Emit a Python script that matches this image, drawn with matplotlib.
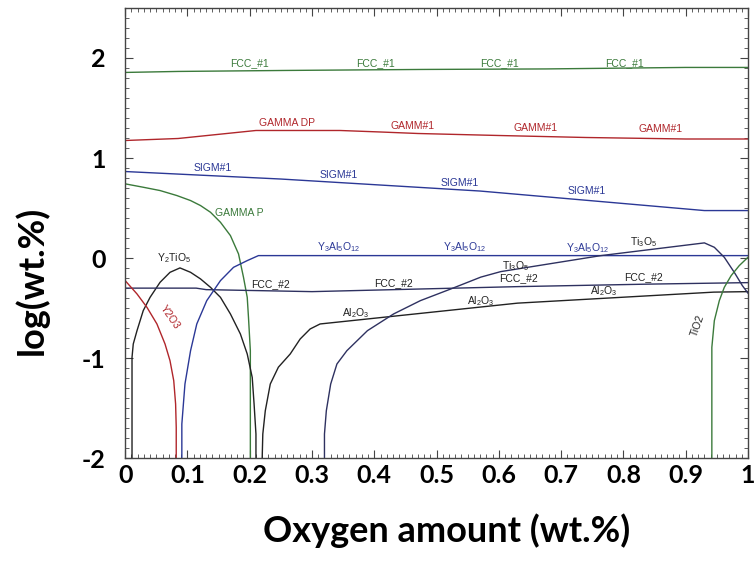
import matplotlib
matplotlib.use('Agg')
import matplotlib.pyplot as plt
from matplotlib.ticker import MultipleLocator

plt.rcParams['mathtext.fontset'] = 'custom'
plt.rcParams['mathtext.rm'] = 'Liberation Sans'
plt.rcParams['mathtext.default'] = 'rm'
plt.rcParams['axes.unicode_minus'] = False

# curvas de fase: oxigenio (wt.%) x log(wt.%)
fcc1_x = [0, 0.085, 0.26, 0.48, 0.675, 0.9, 1.0]
fcc1_y = [1.855, 1.865, 1.875, 1.885, 1.89, 1.905, 1.905]

gamm_x = [0, 0.085, 0.21, 0.345, 0.41, 0.47, 0.6, 0.74, 0.9, 1.0]
gamm_y = [1.175, 1.195, 1.275, 1.275, 1.26, 1.245, 1.225, 1.205, 1.19, 1.19]

sigm_x = [0, 0.25, 0.57, 0.93, 1.0]
sigm_y = [0.865, 0.79, 0.67, 0.475, 0.475]

gammap_x = [0.0, 0.029, 0.056, 0.083, 0.105, 0.121, 0.137, 0.153, 0.169, 0.182,
            0.19, 0.196, 0.198, 0.201, 0.201]
gammap_y = [0.742, 0.708, 0.675, 0.625, 0.575, 0.525, 0.458, 0.358, 0.225, 0.042,
            -0.192, -0.392, -0.592, -0.925, -2.0]

y2tio5_x = [0.011, 0.011, 0.013, 0.019, 0.029, 0.04, 0.056, 0.072, 0.088, 0.105,
            0.121, 0.137, 0.153, 0.169, 0.185, 0.196, 0.204, 0.207, 0.21, 0.21]
y2tio5_y = [-2.0, -0.992, -0.858, -0.725, -0.525, -0.392, -0.242, -0.142, -0.098, -0.142,
            -0.208, -0.292, -0.392, -0.558, -0.758, -0.958, -1.192, -1.458, -1.758, -2.0]

al2o3_x = [0.22, 0.221, 0.225, 0.233, 0.246, 0.265, 0.281, 0.297, 0.313, 0.63, 0.945, 1.0]
al2o3_y = [-2.0, -1.758, -1.525, -1.258, -1.09, -0.958, -0.808, -0.708, -0.658, -0.45, -0.34, -0.335]

fcc2_x = [0, 0.114, 0.13, 0.3, 0.63, 0.84, 1.0]
fcc2_y = [-0.3, -0.3, -0.315, -0.335, -0.285, -0.26, -0.245]

yag_x = [0.091, 0.091, 0.096, 0.105, 0.115, 0.131, 0.153, 0.174, 0.196, 0.214, 1.0]
yag_y = [-2.0, -1.658, -1.258, -0.925, -0.658, -0.425, -0.225, -0.092, -0.025, 0.025, 0.025]

y2o3_x = [0.0, 0.019, 0.035, 0.051, 0.064, 0.072, 0.078, 0.081, 0.082, 0.082]
y2o3_y = [-0.225, -0.358, -0.492, -0.658, -0.858, -1.025, -1.225, -1.458, -1.692, -2.0]

ti3o5_x = [0.32, 0.32, 0.323, 0.33, 0.34, 0.356, 0.389, 0.431, 0.474, 0.523, 0.571,
           0.603, 0.764, 0.93, 0.946, 0.962, 0.978, 0.991, 1.0]
ti3o5_y = [-2.0, -1.758, -1.525, -1.258, -1.058, -0.925, -0.725, -0.558, -0.425, -0.308, -0.19,
           -0.135, 0.025, 0.152, 0.108, 0.008, -0.142, -0.275, -0.35]

tio2_x = [0.942, 0.942, 0.946, 0.954, 0.962, 0.973, 0.986, 1.0]
tio2_y = [-2.0, -0.892, -0.625, -0.425, -0.292, -0.175, -0.075, 0.008]

verde = '#3b7a3b'
vermelho = '#b0262b'
azul = '#2b3896'
marinho = '#2e3160'
preto = '#222222'

curvas = [
    (fcc1_x, fcc1_y, verde),
    (gamm_x, gamm_y, vermelho),
    (sigm_x, sigm_y, azul),
    (gammap_x, gammap_y, verde),
    (y2tio5_x, y2tio5_y, preto),
    (al2o3_x, al2o3_y, preto),
    (fcc2_x, fcc2_y, marinho),
    (yag_x, yag_y, azul),
    (y2o3_x, y2o3_y, vermelho),
    (ti3o5_x, ti3o5_y, marinho),
    (tio2_x, tio2_y, verde),
]

# rotulos: texto, x, y, cor, rotacao
rotulos = [
    ('FCC_#1', 0.2, 1.945, verde, 0), ('FCC_#1', 0.402, 1.945, verde, 0),
    ('FCC_#1', 0.601, 1.945, verde, 0), ('FCC_#1', 0.801, 1.945, verde, 0),
    ('GAMMA DP', 0.26, 1.345, vermelho, 0), ('GAMM#1', 0.461, 1.315, vermelho, 0),
    ('GAMM#1', 0.659, 1.295, vermelho, 0), ('GAMM#1', 0.859, 1.285, vermelho, 0),
    ('SIGM#1', 0.14, 0.905, azul, 0), ('SIGM#1', 0.343, 0.835, azul, 0),
    ('SIGM#1', 0.537, 0.755, azul, 0), ('SIGM#1', 0.741, 0.675, azul, 0),
    ('GAMMA P', 0.183, 0.455, verde, 0),
    (r'Y$_2$TiO$_5$', 0.079, 0.0, preto, 0),
    ('FCC_#2', 0.233, -0.255, preto, 0), ('FCC_#2', 0.431, -0.245, preto, 0),
    ('FCC_#2', 0.632, -0.205, preto, 0), ('FCC_#2', 0.833, -0.195, preto, 0),
    (r'Y$_3$Al$_5$O$_{12}$', 0.343, 0.105, azul, 0),
    (r'Y$_3$Al$_5$O$_{12}$', 0.544, 0.105, azul, 0),
    (r'Y$_3$Al$_5$O$_{12}$', 0.743, 0.095, azul, 0),
    (r'Ti$_3$O$_5$', 0.626, -0.075, preto, 0), (r'Ti$_3$O$_5$', 0.833, 0.155, preto, 0),
    (r'Al$_2$O$_3$', 0.37, -0.545, preto, 0), (r'Al$_2$O$_3$', 0.571, -0.425, preto, 0),
    (r'Al$_2$O$_3$', 0.769, -0.325, preto, 0),
    ('Y2O3', 0.072, -0.595, vermelho, -55),
    ('TiO2', 0.92, -0.675, preto, 70),
]

x_ticks = [0, 0.1, 0.2, 0.3, 0.4, 0.5, 0.6, 0.7, 0.8, 0.9, 1]
x_tick_labels = ['0', '0.1', '0.2', '0.3', '0.4', '0.5', '0.6', '0.7', '0.8', '0.9', '1']
y_ticks = [-2, -1, 0, 1, 2]

fig = plt.figure(figsize=(7.54, 5.63), dpi=100)
ax = fig.add_axes([0.166, 0.186, 0.826, 0.8])

for xs, ys, cor in curvas:
    ax.plot(xs, ys, color=cor, lw=1.0)

for texto, x, y, cor, rot in rotulos:
    ax.text(x, y, texto, color=cor, fontsize=7.5, family='Liberation Sans',
            ha='center', va='center', rotation=rot)

ax.set_xlim(0, 1)
ax.set_ylim(-2, 2.5)
ax.set_xticks(x_ticks)
ax.set_xticklabels(x_tick_labels)
ax.set_yticks(y_ticks)
ax.xaxis.set_minor_locator(MultipleLocator(0.01))
ax.yaxis.set_minor_locator(MultipleLocator(0.1))
ax.tick_params(which='both', direction='in', top=True, right=True, color='#444444')
ax.tick_params(which='major', length=6, width=0.8)
ax.tick_params(which='minor', length=3, width=0.6)
ax.tick_params(axis='x', pad=4)
ax.tick_params(axis='y', pad=14)
for rotulo in ax.get_xticklabels() + ax.get_yticklabels():
    rotulo.set_family('Lato')
    rotulo.set_weight('bold')
    rotulo.set_fontsize(18)
for lado in ax.spines.values():
    lado.set_color('#444444')
    lado.set_linewidth(1.0)

ax.set_xlabel('Oxygen amount (wt.%)', family='Lato', weight='bold', fontsize=26, va='center')
ax.set_ylabel('log(wt.%)', family='Lato', weight='bold', fontsize=26, va='center')
ax.xaxis.set_label_coords(0.516, -0.16)
ax.yaxis.set_label_coords(-0.15, 0.396)

fig.savefig('out.png', dpi=100)
